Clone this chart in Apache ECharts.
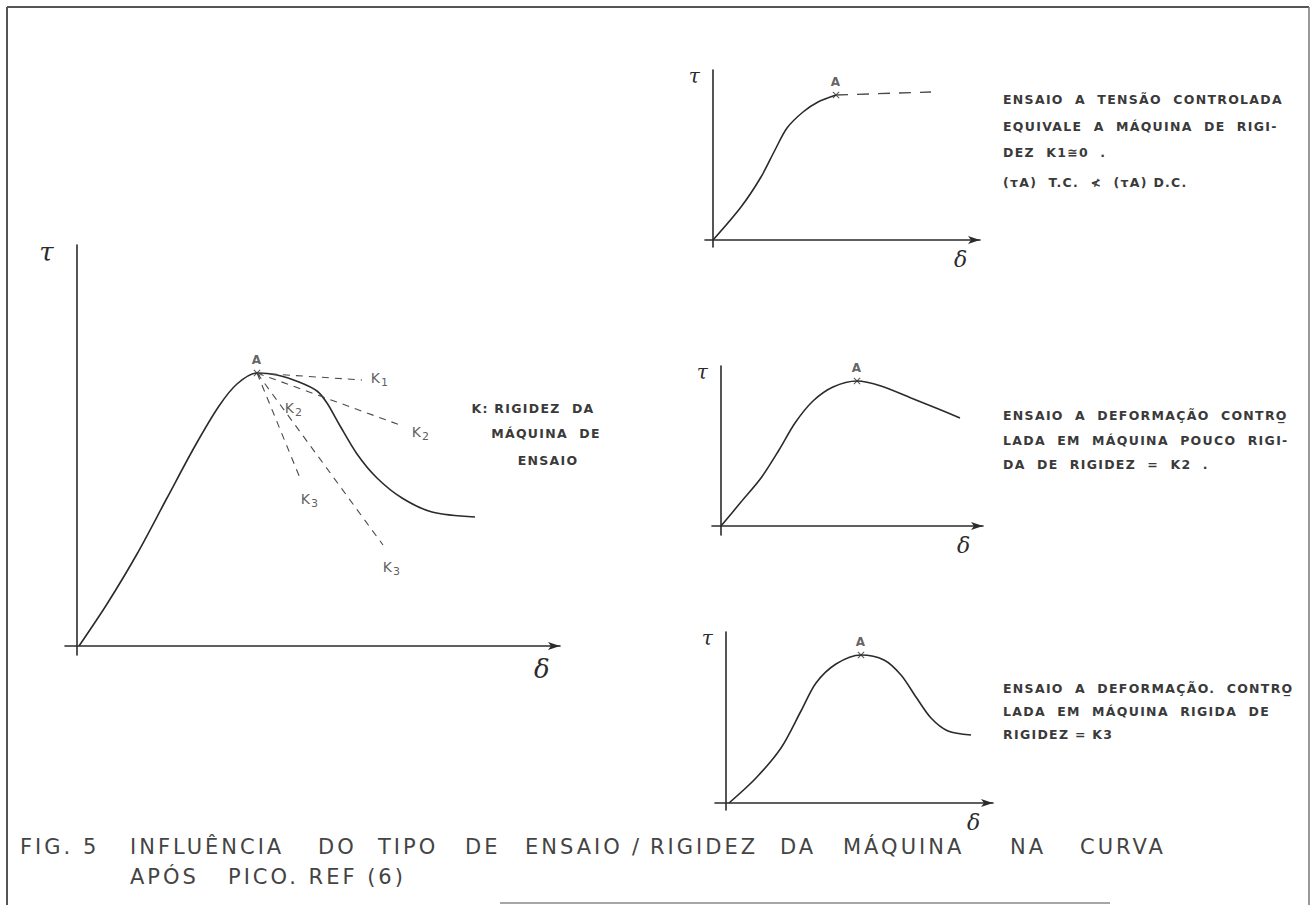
<!DOCTYPE html>
<html><head><meta charset="utf-8">
<script src="https://cdn.jsdelivr.net/npm/echarts@6/dist/echarts.min.js"></script>
<style>
html,body{margin:0;padding:0;background:#fff}
#chart{width:1316px;height:905px}
#chart svg text{letter-spacing:1.3px}
#chart svg text[style*="21px"]{letter-spacing:3px}
</style>
</head><body><div id="chart"></div><script>
// ---------- data (x = deformation δ, y = stress τ, arbitrary units) ----------
// main plot
const mainCurve = [[2,0],[30,42],[60,92],[90,148],[118,200],[142,240],[160,262],[180,273],[200,271],[222,264],[240,255],[250,243],[262,222],[280,192],[300,168],[325,148],[355,134],[398,129]];
const mainPeak = [180,273];
const k1End = [285,266];
const k2End = [323,221];
const k3aEnd = [223,168];
const k3bEnd = [306,101];
const mainLabelNames = ['K{s|1}','K{s|2}','K{s|2}','K{s|3}','K{s|3}'];
const mainLabelPos = [[303,268],[217,238],[344,214],[233,147],[315,79]];
// top-right: stress controlled
const tcCurve = [[0,0],[28,33],[48,63],[62,90],[74,112],[90,128],[105,138],[123,145]];
const tcPeak = [123,145];
const tcPlateau = [[123,145],[218,148]];
// middle-right: soft machine K2
const k2Curve = [[0,0],[20,24],[40,48],[58,76],[74,103],[92,125],[112,139],[136,145],[160,140],[190,128],[215,118],[239,108]];
const k2Peak = [136,145];
// bottom-right: stiff machine K3
const k3Curve = [[3,0],[30,25],[55,55],[75,92],[90,120],[110,139],[135,148],[158,143],[175,128],[190,106],[205,85],[222,72],[245,68]];
const k3Peak = [135,148];

const tauName = 'τ';
const deltaName = 'δ';
const titleWords1 = ['FIG. 5','INFLUÊNCIA','DO','TIPO','DE','ENSAIO','/','RIGIDEZ','DA','MÁQUINA','NA','CURVA'];
const titleWords2 = ['APÓS','PICO. REF (6)'];
const mainNote = ['K: RIGIDEZ  DA','MÁQUINA  DE','ENSAIO'];
const tcNote = ['ENSAIO  A  TENSÃO  CONTROLADA','EQUIVALE  A  MÁQUINA  DE  RIGI-','DEZ  K1≅0  .','(τA)  T.C.  ≮  (τA) D.C.'];
const k2Note = ['ENSAIO  A  DEFORMAÇÃO  CONTRO̲','LADA  EM  MÁQUINA  POUCO  RIGI-','DA  DE  RIGIDEZ  =  K2  .'];
const k3Note = ['ENSAIO  A  DEFORMAÇÃO.  CONTRO̲','LADA  EM  MÁQUINA  RIGIDA  DE','RIGIDEZ = K3'];

// ---------- styling / layout ----------
const INK = '#2b2b2b';
const TXT = '#3a3a3a';
const FONT = 'DejaVu Sans';
const crossSymbol = 'path://M0,1L1,0L5,4L9,0L10,1L6,5L10,9L9,10L5,6L1,10L0,9L4,5Z';

const grids = [
  {left:65, top:245, width:495, height:410},
  {left:705, top:70, width:275, height:177},
  {left:712, top:366, width:271, height:169},
  {left:715, top:632, width:278, height:178}
];
const ranges = [
  {x:[-12,483], y:[-9,401]},
  {x:[-8,267], y:[-7,170]},
  {x:[-9,262], y:[-9,160]},
  {x:[-11,267], y:[-7,171]}
];
const titleX1 = [20,130,318,378,465,525,632,650,780,843,1010,1080];
const titleX2 = [130,228];

const xAxes = ranges.map((r,i)=>({
  type:'value', gridIndex:i, min:r.x[0], max:r.x[1],
  axisLine:{show:true, onZero:true, symbol:['none','arrow'], symbolSize:[6,12], lineStyle:{color:INK, width:1.6}},
  axisTick:{show:false}, axisLabel:{show:false}, splitLine:{show:false},
  name:deltaName, nameLocation:'end', nameGap:-26,
  nameTextStyle:{fontFamily:'DejaVu Serif', fontStyle:'italic', fontSize:i===0?26:22, color:INK, verticalAlign:'top', padding:[i===0?10:8,0,0,0]}
}));
const yAxes = ranges.map((r,i)=>({
  type:'value', gridIndex:i, min:r.y[0], max:r.y[1],
  axisLine:{show:true, onZero:true, lineStyle:{color:INK, width:1.6}},
  axisTick:{show:false}, axisLabel:{show:false}, splitLine:{show:false},
  name:tauName, nameLocation:'end', nameGap:i===0?-20:-16,
  nameTextStyle:{fontFamily:'DejaVu Serif', fontStyle:'italic', fontSize:i===0?26:20, color:INK, align:'right', padding:[0,i===0?22:12,0,0]}
}));

function curve(data, gi){
  return {type:'line', xAxisIndex:gi, yAxisIndex:gi, data, smooth:0.3, showSymbol:false, silent:true,
    lineStyle:{color:INK, width:1.6}};
}
function dashed(a, b, gi, pattern, w){
  return {type:'line', xAxisIndex:gi, yAxisIndex:gi, data:[a,b], showSymbol:false, silent:true,
    lineStyle:{color:'#4a4a4a', width:w||1.1, type:pattern||[7,6]}};
}
function peak(p, gi){
  return {type:'scatter', xAxisIndex:gi, yAxisIndex:gi, data:[p], symbol:crossSymbol, symbolSize:7, silent:true,
    itemStyle:{color:INK},
    label:{show:true, position:'top', distance:4, formatter:'A', fontFamily:FONT, fontWeight:'bold', fontSize:12, color:TXT}};
}

const series = [
  curve(mainCurve,0),
  dashed(mainPeak,k1End,0), dashed(mainPeak,k2End,0), dashed(mainPeak,k3aEnd,0), dashed(mainPeak,k3bEnd,0),
  peak(mainPeak,0),
  {type:'scatter', xAxisIndex:0, yAxisIndex:0, symbolSize:1, silent:true, itemStyle:{color:'rgba(0,0,0,0)'},
    data: mainLabelNames.map((n,i)=>({name:n, value:mainLabelPos[i]})),
    label:{show:true, position:'inside', formatter:p=>p.name, fontFamily:FONT, fontSize:14, color:'#333',
      textBorderWidth:0, rich:{s:{fontFamily:FONT, fontSize:11, color:'#333', padding:[9,0,0,1]}}}},
  curve(tcCurve,1), dashed(tcPlateau[0], tcPlateau[1], 1, [12,9], 1.4), peak(tcPeak,1),
  curve(k2Curve,2), peak(k2Peak,2),
  curve(k3Curve,3), peak(k3Peak,3)
];

function block(lines, x, ys, align){
  return lines.map((t,i)=>({type:'text', x: Array.isArray(x)?x[i]:x, y:ys[i],
    style:{text:t, fontFamily:FONT, fontWeight:'bold', fontSize:12.5, fill:TXT, textAlign:align||'left', textVerticalAlign:'middle'}}));
}
function words(list, xs, y){
  return list.map((t,i)=>({type:'text', x:xs[i], y, style:{text:t, fontFamily:FONT, fontSize:21, fill:'#444', textVerticalAlign:'middle'}}));
}

const graphic = [
  {type:'line', shape:{x1:7,y1:7,x2:1309,y2:7}, style:{stroke:'#555', lineWidth:2}},
  {type:'line', shape:{x1:7,y1:7,x2:7,y2:905}, style:{stroke:'#555', lineWidth:2}},
  {type:'line', shape:{x1:1309,y1:7,x2:1309,y2:905}, style:{stroke:'#777', lineWidth:1.5}},
  {type:'line', shape:{x1:500,y1:903,x2:1110,y2:903}, style:{stroke:'#888', lineWidth:1.5}},
  ...block(mainNote, [533,546,548], [408,433,460], 'center'),
  ...block(tcNote, 1003, [99,126,152,182]),
  ...block(k2Note, 1003, [415,440,464]),
  ...block(k3Note, 1003, [688,711,734]),
  ...words(titleWords1, titleX1, 847),
  ...words(titleWords2, titleX2, 877)
];

const chart = echarts.init(document.getElementById('chart'), null, {renderer:'svg'});
chart.setOption({
  backgroundColor:'#ffffff',
  animation:false,
  grid: grids.map(g=>Object.assign({containLabel:false, outerBoundsMode:'none'}, g)),
  xAxis: xAxes, yAxis: yAxes,
  series, graphic
});
</script></body></html>
